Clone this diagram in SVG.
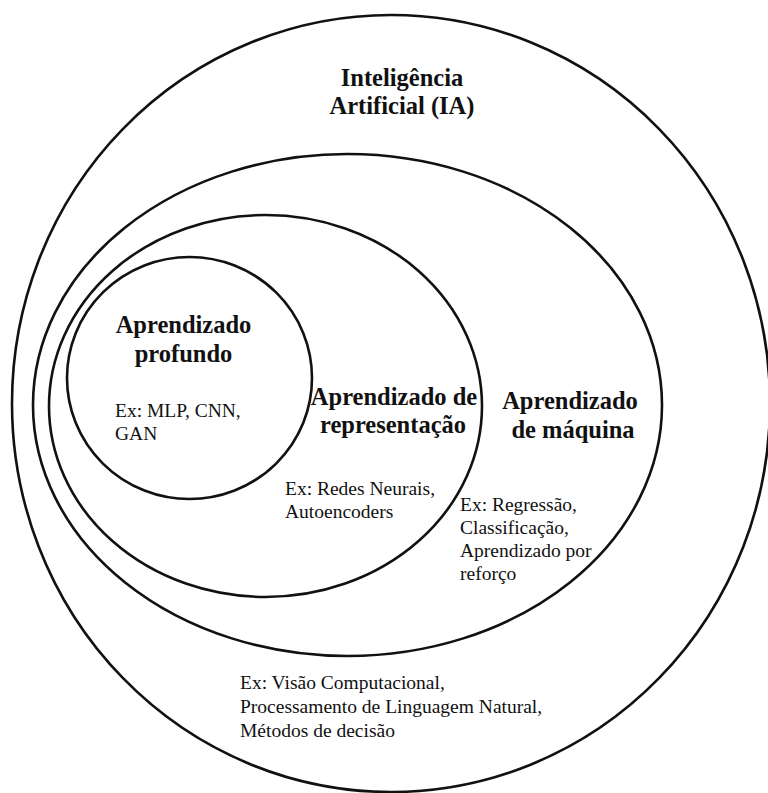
<svg xmlns="http://www.w3.org/2000/svg" width="768" height="793" viewBox="0 0 768 793">
  <style>
    .ring { fill: none; stroke: #111; stroke-width: 2.6; }
    .title { font-family: "Liberation Serif", "DejaVu Serif", serif; font-weight: bold; font-size: 24.5px; fill: #111; text-anchor: middle; }
    .ex { font-family: "Liberation Serif", "DejaVu Serif", serif; font-size: 19.5px; fill: #111; }
  </style>
  <rect width="768" height="793" fill="#fff"/>

  <!-- Artificial intelligence (outermost set) -->
  <g id="ia">
    <ellipse class="ring" cx="391" cy="403.5" rx="379" ry="388.5"/>
    <text class="title" x="402" y="86">Inteligência</text>
    <text class="title" x="402" y="114">Artificial (IA)</text>
    <text class="ex" x="240" y="689">Ex: Visão Computacional,</text>
    <text class="ex" x="240" y="713">Processamento de Linguagem Natural,</text>
    <text class="ex" x="240" y="737">Métodos de decisão</text>
  </g>

  <!-- Machine learning -->
  <g id="ml">
    <ellipse class="ring" cx="347.5" cy="405" rx="314.5" ry="251"/>
    <text class="title" x="570" y="409">Aprendizado</text>
    <text class="title" x="573" y="438">de máquina</text>
    <text class="ex" x="460" y="511">Ex: Regressão,</text>
    <text class="ex" x="460" y="534">Classificação,</text>
    <text class="ex" x="460" y="557">Aprendizado por</text>
    <text class="ex" x="460" y="580">reforço</text>
  </g>

  <!-- Representation learning -->
  <g id="rep">
    <ellipse class="ring" cx="265.5" cy="406" rx="216.5" ry="191"/>
    <text class="title" x="394" y="405">Aprendizado de</text>
    <text class="title" x="393" y="433">representação</text>
    <text class="ex" x="285" y="495">Ex: Redes Neurais,</text>
    <text class="ex" x="285" y="518">Autoencoders</text>
  </g>

  <!-- Deep learning (innermost set) -->
  <g id="dl">
    <ellipse class="ring" cx="189.5" cy="378" rx="122.5" ry="121"/>
    <text class="title" x="183.5" y="333">Aprendizado</text>
    <text class="title" x="183.5" y="362">profundo</text>
    <text class="ex" x="115" y="417">Ex: MLP, CNN,</text>
    <text class="ex" x="115" y="440">GAN</text>
  </g>

  <!-- no connectors: the sets are nested -->
  <g id="connectors"/>
</svg>
